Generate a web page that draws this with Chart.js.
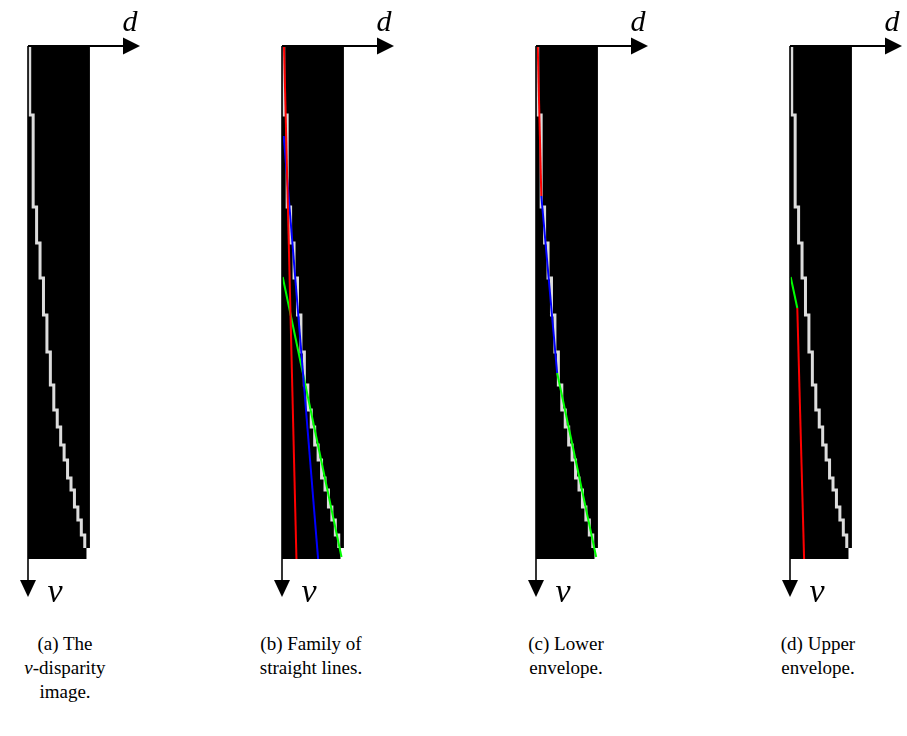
<!DOCTYPE html>
<html>
<head>
<meta charset="utf-8">
<script src="https://cdn.jsdelivr.net/npm/chart.js@4/dist/chart.umd.min.js"></script>
<style>
  body { margin: 0; background: #fff; width: 907px; height: 736px; position: relative; overflow: hidden; }
  canvas { position: absolute; top: 0; }
  .cap { position: absolute; top: 632px; width: 170px; text-align: center;
         font-family: "Liberation Serif", "DejaVu Serif", serif; font-size: 19px; line-height: 24px; color: #000; }
</style>
</head>
<body>
<script>
// v-disparity image: one disparity value per run of rows
const imageCols = 18;
const imageRows = 513;
const stairD = [0, 1, 2, 3, 4, 5, 6, 7, 8, 9, 10, 11, 12, 13, 14, 15, 16];
const stairV = [0, 69, 161, 197, 232, 269, 306, 339, 364, 381, 399, 414, 432, 444, 461, 474, 489, 502];

// fitted straight lines (d, v end points)
const familyRed   = { d: [0.08, 3.7],  v: [0, 513] };
const familyBlue  = { d: [0.0, 10.0],  v: [90, 513] };
const familyGreen = { d: [-0.3, 16.8], v: [231, 511] };

const lowerRed    = { d: [0.0, 1.05],  v: [0, 150] };
const lowerBlue   = { d: [1.05, 5.65], v: [150, 327] };
const lowerGreen  = { d: [5.65, 17.0], v: [327, 511] };

const upperGreen  = { d: [-0.3, 1.62], v: [231, 262] };
const upperRed    = { d: [1.62, 3.6],  v: [262, 513] };

const captions = [
  '(a) The<br><i>v</i>-disparity<br>image.',
  '(b) Family of<br>straight lines.',
  '(c) Lower<br>envelope.',
  '(d) Upper<br>envelope.'
];

// layout
const panelLeft = [28, 282, 536, 790];
const captionCenter = [65, 311, 566, 818];
const pxPerD = 3.44;
const canvasW = 140, canvasH = 620, originX = 12, originY = 46;

function stairPoints() {
  const pts = [];
  stairD.forEach((d, i) => {
    pts.push({ x: d, y: stairV[i] });
    pts.push({ x: d, y: stairV[i + 1] });
  });
  return pts;
}

function segment(line, color) {
  return {
    data: line.d.map((d, i) => ({ x: d, y: line.v[i] })),
    borderColor: color, borderWidth: 2, order: 1
  };
}

const imagePlugin = {
  id: 'vdispImage',
  beforeDatasetsDraw(chart) {
    const { ctx, scales: { x, y } } = chart;
    const x0 = x.getPixelForValue(-0.5);
    const x1 = x.getPixelForValue(imageCols - 0.5);
    const x2 = x.getPixelForValue(imageCols - 1.5);
    const y0 = y.getPixelForValue(0);
    const y1 = y.getPixelForValue(stairV[stairV.length - 1]);
    const y2 = y.getPixelForValue(imageRows);
    ctx.save();
    ctx.fillStyle = '#000';
    ctx.fillRect(x0, y0, x1 - x0, y1 - y0);
    ctx.fillRect(x0, y1, x2 - x0, y2 - y1);
    ctx.restore();
  },
  afterDatasetsDraw(chart) {
    const { ctx, scales: { x, y } } = chart;
    const ox = x.getPixelForValue(-0.5);
    const oy = y.getPixelForValue(0);
    const tipX = ox + 112, tipY = oy + 551;
    ctx.save();
    ctx.strokeStyle = '#000';
    ctx.fillStyle = '#000';
    // d axis
    ctx.lineWidth = 2;
    ctx.beginPath();
    ctx.moveTo(ox, oy); ctx.lineTo(tipX - 14, oy);
    ctx.stroke();
    ctx.beginPath();
    ctx.moveTo(tipX, oy); ctx.lineTo(tipX - 17, oy - 8.5); ctx.lineTo(tipX - 17, oy + 8.5);
    ctx.closePath(); ctx.fill();
    // v axis
    ctx.lineWidth = 1.6;
    ctx.beginPath();
    ctx.moveTo(ox, oy); ctx.lineTo(ox, tipY - 14);
    ctx.stroke();
    ctx.beginPath();
    ctx.moveTo(ox, tipY); ctx.lineTo(ox - 8, tipY - 17); ctx.lineTo(ox + 8, tipY - 17);
    ctx.closePath(); ctx.fill();
    // labels
    ctx.textAlign = 'center';
    ctx.textBaseline = 'alphabetic';
    ctx.font = 'italic 30px "Liberation Serif", serif';
    ctx.fillText('d', tipX - 10, oy - 15);
    ctx.font = 'italic 34px "Liberation Serif", serif';
    ctx.fillText('v', ox + 27, tipY + 5);
    ctx.restore();
  }
};

const panelLines = [
  [],
  [segment(familyRed, '#ff0000'), segment(familyBlue, '#0000ff'), segment(familyGreen, '#00ff00')],
  [segment(lowerRed, '#ff0000'), segment(lowerBlue, '#0000ff'), segment(lowerGreen, '#00ff00')],
  [segment(upperGreen, '#00ff00'), segment(upperRed, '#ff0000')]
];

panelLeft.forEach((left, i) => {
  const canvas = document.createElement('canvas');
  canvas.width = canvasW;
  canvas.height = canvasH;
  canvas.style.left = (left - originX) + 'px';
  document.body.appendChild(canvas);

  const dMin = -0.5 - originX / pxPerD;
  const vMin = -originY;

  new Chart(canvas.getContext('2d'), {
    type: 'line',
    data: {
      datasets: [
        { data: stairPoints(), borderColor: '#dcdcdc', borderWidth: 3, order: 10,
          borderJoinStyle: 'miter', borderCapStyle: 'butt' },
        ...panelLines[i]
      ]
    },
    options: {
      responsive: false,
      animation: false,
      events: [],
      layout: { padding: 0 },
      elements: { point: { radius: 0 }, line: { tension: 0 } },
      plugins: { legend: { display: false }, tooltip: { enabled: false } },
      scales: {
        x: { type: 'linear', display: false, min: dMin, max: dMin + canvasW / pxPerD },
        y: { type: 'linear', display: false, reverse: true, min: vMin, max: vMin + canvasH }
      }
    },
    plugins: [imagePlugin]
  });

  const cap = document.createElement('div');
  cap.className = 'cap';
  cap.style.left = (captionCenter[i] - 85) + 'px';
  cap.innerHTML = captions[i];
  document.body.appendChild(cap);
});
</script>
</body>
</html>
